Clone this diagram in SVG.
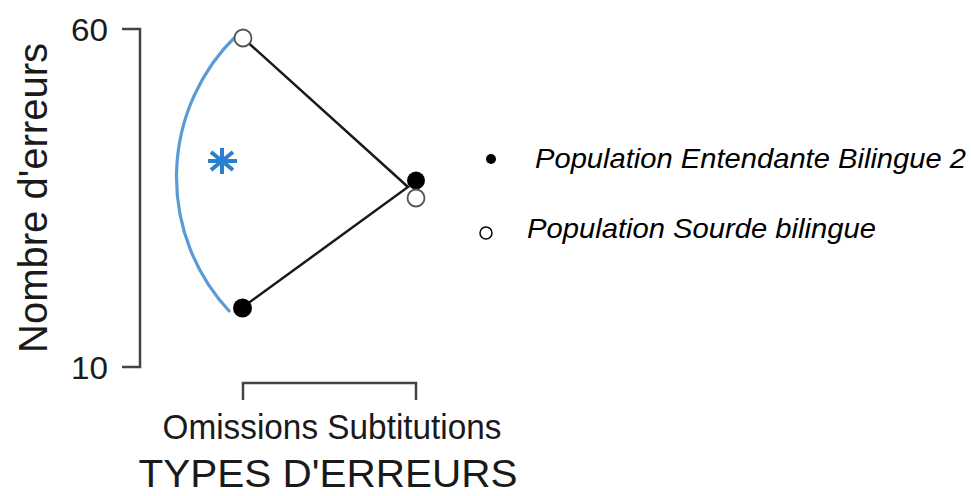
<svg xmlns="http://www.w3.org/2000/svg" width="971" height="496" viewBox="0 0 971 496">
<style>
.t{font-family:"Liberation Sans",Arial,sans-serif;fill:#1a1a1a}
.ax{stroke:#444;stroke-width:2.5;fill:none}
.ln{stroke:#1a1a1a;stroke-width:2.5;fill:none}
.open{fill:#fff;stroke:#555;stroke-width:1.8}
.fill{fill:#000}
.lg{font-family:"Liberation Sans",Arial,sans-serif;font-style:italic;font-size:28px;fill:#000}
</style>
<rect width="971" height="496" fill="#fff"/>
<g id="y-axis">
<path class="ax" d="M122 29 H140 V367 H122"/>
<text class="t" x="108" y="41" font-size="31" text-anchor="end" textLength="37" lengthAdjust="spacingAndGlyphs">60</text>
<text class="t" x="108" y="379" font-size="31" text-anchor="end" textLength="37" lengthAdjust="spacingAndGlyphs">10</text>
<text class="t" transform="translate(47 198) rotate(-90)" font-size="40" text-anchor="middle">Nombre d'erreurs</text>
</g>
<g id="x-axis">
<path class="ax" d="M243 400 V383 H416 V400"/>
<text class="t" x="332" y="439" font-size="35" text-anchor="middle" textLength="339" lengthAdjust="spacingAndGlyphs">Omissions Subtitutions</text>
<text class="t" x="328" y="487" font-size="38" text-anchor="middle" textLength="379" lengthAdjust="spacingAndGlyphs">TYPES D'ERREURS</text>
</g>
<g id="connectors">
<path class="ln" d="M243 38 L408 187 L243 307"/>
<path d="M237 35 A197 197 0 0 0 230 312" fill="none" stroke="#5b9bd5" stroke-width="3.2"/>
</g>
<g id="significance">
<g stroke="#2a7fd0" stroke-width="4">
<line x1="208" y1="161" x2="237" y2="161"/>
<line x1="222" y1="148" x2="222" y2="174"/>
<line x1="211" y1="152" x2="233" y2="170"/>
<line x1="211" y1="170" x2="233" y2="152"/>
</g>
</g>
<g id="point-omissions-sourde"><circle class="open" cx="243" cy="38" r="8.5"/></g>
<g id="point-omissions-entendante"><circle class="fill" cx="242.5" cy="308" r="9.5"/></g>
<g id="point-subtitutions-entendante"><circle class="fill" cx="416" cy="180.5" r="9"/></g>
<g id="point-subtitutions-sourde"><circle class="open" cx="416" cy="198" r="8.5"/></g>
<g id="legend">
<circle cx="491" cy="159" r="5" fill="#000"/>
<text class="lg" x="535" y="168" textLength="431" lengthAdjust="spacingAndGlyphs">Population Entendante Bilingue 2</text>
<circle cx="486" cy="233" r="6" fill="none" stroke="#000" stroke-width="1.5"/>
<text class="lg" x="527" y="238" textLength="349" lengthAdjust="spacingAndGlyphs">Population Sourde bilingue</text>
</g>
</svg>
